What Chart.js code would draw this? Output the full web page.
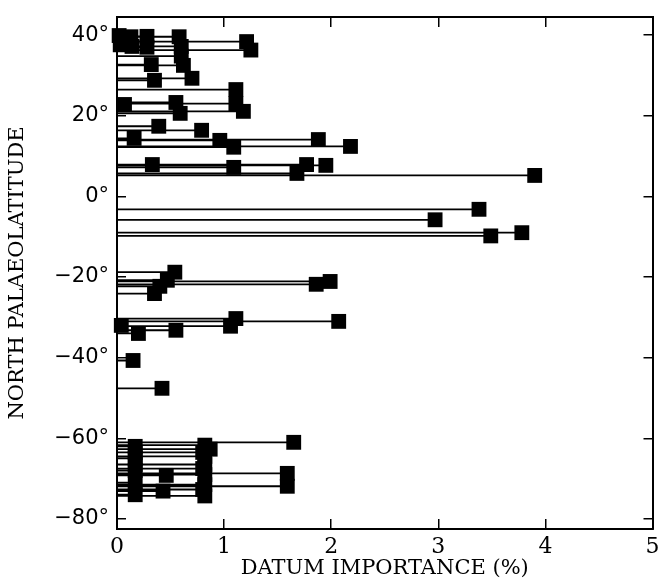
<!DOCTYPE html>
<html><head><meta charset="utf-8">
<script src="https://cdn.jsdelivr.net/npm/chart.js@4/dist/chart.umd.min.js"></script>
<style>html,body{margin:0;padding:0;background:#fff}</style>
</head><body>
<canvas id="c" width="663" height="581"></canvas>
<script>
// North palaeolatitude (degrees) of each datum
const latitude = [
  39.9, 39.6, 39.7, 39.6, 37.6, 37.2, 37.0, 37.2, 38.4, 36.3,
  34.8, 32.7, 32.5, 28.8, 29.3, 26.5, 23.0, 21.1, 22.8, 23.3,
  20.6, 17.4, 16.4, 14.4, 13.9, 12.2, 14.1, 12.4, 7.9, 7.2,
  7.9, 7.7, 5.7, 5.2,
  -3.2, -5.8, -9.8, -9.0,
  -18.8, -20.8, -22.3, -24.1, -21.8, -21.1,
  -30.3, -32.2, -31.0, -34.0, -33.2, -32.0,
  -40.7, -47.6,
  -61.0, -61.7, -62.7, -64.5, -66.5, -69.0, -71.5, -74.3, -63.5, -67.5, -72.7,
  -68.7, -71.9, -69.2, -73.1,
  -62.0, -65.0, -68.0, -71.0, -74.0, -63.5, -66.5
];
// Datum importance (%) of each datum
const importance = [
  0.02, 0.13, 0.28, 0.58, 0.03, 0.14, 0.28, 0.60, 1.21, 1.25,
  0.60, 0.32, 0.62, 0.35, 0.70, 1.11, 1.11, 1.18, 0.07, 0.55,
  0.59, 0.39, 0.79, 0.16, 0.96, 1.09, 1.88, 2.18, 0.33, 1.09,
  1.77, 1.95, 1.68, 3.90,
  3.38, 2.97, 3.49, 3.78,
  0.54, 0.47, 0.40, 0.35, 1.86, 1.99,
  1.11, 1.06, 2.07, 0.20, 0.55, 0.04,
  0.15, 0.42,
  1.65, 0.82, 0.87, 0.82, 0.82, 0.82, 0.82, 0.82, 0.80, 0.80, 0.80,
  1.59, 1.59, 0.46, 0.43,
  0.17, 0.17, 0.17, 0.17, 0.17, 0.17, 0.17
];
const xTicks = [0, 1, 2, 3, 4, 5];
const yTicks = [-80, -60, -40, -20, 0, 20, 40];

const stemData = [];
latitude.forEach((lat, i) => {
  stemData.push({x: 0, y: lat}, {x: importance[i], y: lat}, {x: importance[i], y: null});
});
const markerData = latitude.map((lat, i) => ({x: importance[i], y: lat}));

const degFmt = v => (v < 0 ? '\u2212' + (-v) : String(v)) + '\u00B0';
const xGrid = {drawOnChartArea: false, tickLength: -10, color: '#000', lineWidth: 1.5};
const yGrid = {drawOnChartArea: false, tickLength: -9, color: '#000', lineWidth: 1.5};
const borderOpts = {color: '#000', width: 2};
const noPad = s => { s.paddingLeft = 0; s.paddingRight = 0; s.paddingTop = 0; s.paddingBottom = 0; };

new Chart(document.getElementById('c'), {
  type: 'scatter',
  data: {datasets: [
    {type: 'line', data: stemData, borderColor: '#000', borderWidth: 1.8, pointRadius: 0,
     spanGaps: false, fill: false, tension: 0, order: 2, clip: false},
    {type: 'scatter', data: markerData, pointStyle: 'rect', pointRadius: 10.5,
     backgroundColor: '#000', borderColor: '#000', borderWidth: 0, order: 1, clip: false}
  ]},
  options: {
    responsive: false, animation: false, devicePixelRatio: 1, events: [],
    layout: {padding: {top: 17, right: 10, left: 0, bottom: 0}},
    plugins: {legend: {display: false}, tooltip: {enabled: false}},
    scales: {
      x: {
        type: 'linear', position: 'bottom', min: 0, max: 5,
        afterBuildTicks: s => { s.ticks = xTicks.map(v => ({value: v})); },
        ticks: {font: {family: 'DejaVu Serif', size: 22}, color: '#000', padding: 15, maxRotation: 0, autoSkip: false},
        grid: xGrid, border: borderOpts,
        title: {display: true, text: 'DATUM IMPORTANCE (%)', font: {family: 'DejaVu Serif', size: 21}, color: '#000', padding: {top: 0, bottom: 0}},
        afterFit: s => { s.height = 52; noPad(s); }
      },
      x2: {
        type: 'linear', position: 'top', min: 0, max: 5,
        afterBuildTicks: s => { s.ticks = xTicks.map(v => ({value: v})); },
        ticks: {display: false}, grid: xGrid, border: borderOpts,
        afterFit: s => { s.height = 0; noPad(s); }
      },
      y: {
        type: 'linear', position: 'left', min: -82.5, max: 44.5,
        afterBuildTicks: s => { s.ticks = yTicks.map(v => ({value: v})); },
        ticks: {font: {family: 'DejaVu Sans', size: 21}, color: '#000', padding: 17, autoSkip: false, callback: degFmt},
        grid: yGrid, border: borderOpts,
        title: {display: true, text: 'NORTH PALAEOLATITUDE', font: {family: 'DejaVu Serif', size: 21}, color: '#000', padding: {top: 5, bottom: 0}},
        afterFit: s => { s.width = 117; noPad(s); }
      },
      y2: {
        type: 'linear', position: 'right', min: -82.5, max: 44.5,
        afterBuildTicks: s => { s.ticks = yTicks.map(v => ({value: v})); },
        ticks: {display: false}, grid: yGrid, border: borderOpts,
        afterFit: s => { s.width = 0; noPad(s); }
      }
    }
  }
});
</script>
</body></html>
